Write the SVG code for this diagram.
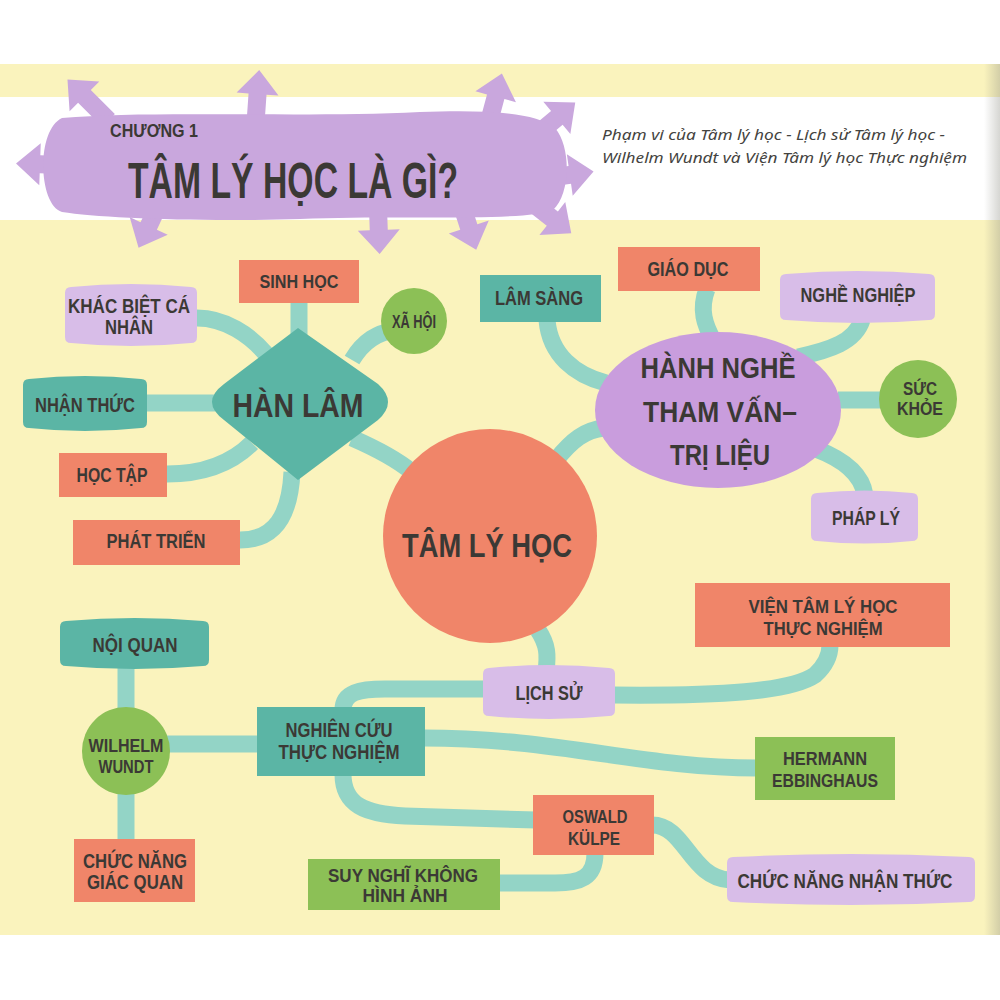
<svg xmlns="http://www.w3.org/2000/svg" xmlns:xlink="http://www.w3.org/1999/xlink" width="1000" height="1000" viewBox="0 0 1000 1000">
<defs>
<style>
.t{font-family:"Liberation Sans","DejaVu Sans",sans-serif;font-weight:bold;fill:#3b3935;text-anchor:middle;font-size:20px}
.s19{font-size:19px}
.big{font-size:34px}
.mid{font-size:29px}
.title{font-size:50px}
.sub{font-family:"Noto Sans","Open Sans","DejaVu Sans",sans-serif;font-style:italic;font-size:15px;fill:#444340}
.con path{fill:none;stroke:#93d4c6;stroke-width:17}
.salmon{fill:#f08569}
.teal{fill:#5bb5a5}
.lav{fill:#d8bde8}
.purp{fill:#c99ddd}
.green{fill:#8cc056}
</style>
<linearGradient id="edge" x1="0" y1="0" x2="1" y2="0">
<stop offset="0" stop-color="#8a8a80" stop-opacity="0"/>
<stop offset="1" stop-color="#8a8a80" stop-opacity="0.35"/>
</linearGradient>
<polygon id="arw" points="-9,12 -9,-22 -21,-22 0,-46 21,-22 9,-22 9,12" fill="#c9a7dd"/>
</defs>

<rect width="1000" height="1000" fill="#ffffff"/>
<rect x="0" y="64" width="1000" height="871" fill="#faf3bd"/>
<rect x="0" y="97" width="1000" height="123" fill="#ffffff"/>
<rect x="984" y="64" width="16" height="871" fill="url(#edge)"/>

<g id="header">
<use xlink:href="#arw" transform="translate(100,112) rotate(-45)"/>
<use xlink:href="#arw" transform="translate(256,116) rotate(4)"/>
<use xlink:href="#arw" transform="translate(490,118) rotate(15)"/>
<use xlink:href="#arw" transform="translate(540,132) rotate(50)"/>
<use xlink:href="#arw" transform="translate(548,178) rotate(82)"/>
<use xlink:href="#arw" transform="translate(535,205) rotate(128)"/>
<use xlink:href="#arw" transform="translate(462,206) rotate(162)"/>
<use xlink:href="#arw" transform="translate(378,208) rotate(178)"/>
<use xlink:href="#arw" transform="translate(158,206) rotate(205)"/>
<use xlink:href="#arw" transform="translate(62,165) rotate(-88)"/>
<path d="M62,118 C150,110 300,118 420,112 C480,110 535,111 555,128 C572,148 570,195 553,210 C525,222 400,215 300,219 C200,222 100,218 62,212 C38,205 36,130 62,118 Z" fill="#c9a7dd"/>
<text class="t s19" x="154" y="137" textLength="88" lengthAdjust="spacingAndGlyphs">CHƯƠNG 1</text>
<text class="t title" x="293" y="198" textLength="330" lengthAdjust="spacingAndGlyphs">TÂM LÝ HỌC LÀ GÌ?</text>
<text class="sub" x="602" y="140" textLength="343" lengthAdjust="spacingAndGlyphs">Phạm vi của Tâm lý học - Lịch sử Tâm lý học -</text>
<text class="sub" x="602" y="163" textLength="365" lengthAdjust="spacingAndGlyphs">Wilhelm Wundt và Viện Tâm lý học Thực nghiệm</text>
</g>

<g id="connectors" class="con">
<path d="M299,300 L299,335"/>
<path d="M197,318 C225,318 250,335 266,354"/>
<path d="M352,360 C364,340 378,333 394,330"/>
<path d="M145,403 L215,403"/>
<path d="M167,474 C200,474 230,465 252,443"/>
<path d="M240,540 C275,540 290,515 292,472"/>
<path d="M352,438 C375,448 395,458 412,472"/>
<path d="M556,460 C572,440 585,430 604,428"/>
<path d="M547,320 C550,355 575,375 606,383"/>
<path d="M707,289 C699,310 705,325 713,340"/>
<path d="M862,320 C855,342 830,350 798,357"/>
<path d="M838,400 L882,400"/>
<path d="M816,449 C845,460 862,475 865,495"/>
<path d="M538,630 C548,645 548,655 546,672"/>
<path d="M613,695 C720,696 790,692 815,675 C826,665 830,655 830,645"/>
<path d="M486,689 L385,689 C360,689 343,692 343,710"/>
<path d="M423,738 C560,738 640,768 757,768"/>
<path d="M343,774 C343,805 365,814 405,816 L536,820"/>
<path d="M595,853 C595,878 580,883 555,883 L498,883"/>
<path d="M652,825 C685,825 690,878 730,880"/>
<path d="M126,665 L126,712"/>
<path d="M166,744 L260,744"/>
<path d="M126,790 L126,841"/>
</g>

<g id="n-sinhhoc">
<rect class="salmon" x="239" y="260" width="120" height="43"/>
<text class="t s19" x="299" y="288" textLength="79" lengthAdjust="spacingAndGlyphs">SINH HỌC</text>
</g>
<g id="n-khacbiet">
<path class="lav" d="M65,293 Q65,287 71,287 Q131,281 191,287 Q197,287 197,293 L197,337 Q197,343 191,343 Q131,349 71,343 Q65,343 65,337 Z"/>
<text class="t" x="129" y="313" textLength="122" lengthAdjust="spacingAndGlyphs">KHÁC BIỆT CÁ</text>
<text class="t" x="129" y="334" textLength="48" lengthAdjust="spacingAndGlyphs">NHÂN</text>
</g>
<g id="n-xahoi">
<circle class="green" cx="414" cy="321" r="33"/>
<text class="t s19" x="414" y="328" textLength="44" lengthAdjust="spacingAndGlyphs">XÃ HỘI</text>
</g>
<g id="n-nhanthuc">
<path class="teal" d="M23,385 Q23,379 29,379 Q85,373 141,379 Q147,379 147,385 L147,422 Q147,428 141,428 Q85,434 29,428 Q23,428 23,422 Z"/>
<text class="t" x="85" y="412" textLength="100" lengthAdjust="spacingAndGlyphs">NHẬN THỨC</text>
</g>
<g id="n-hanlam">
<path class="teal" d="M298,328 L378,384 Q398,402 378,420 L298,480 L224,420 Q200,402 224,384 Z"/>
<text class="t big" x="298" y="417" textLength="131" lengthAdjust="spacingAndGlyphs">HÀN LÂM</text>
</g>
<g id="n-hoctap">
<rect class="salmon" x="59" y="453" width="108" height="44"/>
<text class="t" x="112" y="482" textLength="71" lengthAdjust="spacingAndGlyphs">HỌC TẬP</text>
</g>
<g id="n-phattrien">
<rect class="salmon" x="73" y="520" width="167" height="45"/>
<text class="t" x="156" y="548" textLength="99" lengthAdjust="spacingAndGlyphs">PHÁT TRIỂN</text>
</g>
<g id="n-tamlyhoc">
<circle class="salmon" cx="490" cy="536" r="107"/>
<text class="t big" x="487" y="557" textLength="170" lengthAdjust="spacingAndGlyphs">TÂM LÝ HỌC</text>
</g>
<g id="n-lamsang">
<rect class="teal" x="480" y="275" width="121" height="47"/>
<text class="t" x="539" y="305" textLength="88" lengthAdjust="spacingAndGlyphs">LÂM SÀNG</text>
</g>
<g id="n-giaoduc">
<rect class="salmon" x="618" y="247" width="142" height="44"/>
<text class="t" x="688" y="276" textLength="81" lengthAdjust="spacingAndGlyphs">GIÁO DỤC</text>
</g>
<g id="n-nghenghiep">
<path class="lav" d="M780,280 Q780,274 786,274 Q857,268 929,274 Q935,274 935,280 L935,314 Q935,320 929,320 Q857,326 786,320 Q780,320 780,314 Z"/>
<text class="t" x="858" y="302" textLength="115" lengthAdjust="spacingAndGlyphs">NGHỀ NGHIỆP</text>
</g>
<g id="n-hanhnghe">
<ellipse class="purp" cx="718" cy="410" rx="123" ry="78"/>
<text class="t mid" x="718" y="378" textLength="155" lengthAdjust="spacingAndGlyphs">HÀNH NGHỀ</text>
<text class="t mid" x="720" y="422" textLength="154" lengthAdjust="spacingAndGlyphs">THAM VẤN–</text>
<text class="t mid" x="720" y="465" textLength="100" lengthAdjust="spacingAndGlyphs">TRỊ LIỆU</text>
</g>
<g id="n-suckhoe">
<circle class="green" cx="918" cy="399" r="39"/>
<text class="t s19" x="920" y="395" textLength="34" lengthAdjust="spacingAndGlyphs">SỨC</text>
<text class="t s19" x="920" y="415" textLength="46" lengthAdjust="spacingAndGlyphs">KHỎE</text>
</g>
<g id="n-phaply">
<path class="lav" d="M811,499 Q811,493 817,493 Q865,488 912,493 Q918,493 918,499 L918,535 Q918,541 912,541 Q865,546 817,541 Q811,541 811,535 Z"/>
<text class="t" x="866" y="525" textLength="68" lengthAdjust="spacingAndGlyphs">PHÁP LÝ</text>
</g>
<g id="n-vien">
<rect class="salmon" x="695" y="583" width="255" height="64"/>
<text class="t s19" x="823" y="613" textLength="149" lengthAdjust="spacingAndGlyphs">VIỆN TÂM LÝ HỌC</text>
<text class="t s19" x="823" y="635" textLength="119" lengthAdjust="spacingAndGlyphs">THỰC NGHIỆM</text>
</g>
<g id="n-lichsu">
<path class="lav" d="M483,674 Q483,668 489,668 Q549,662 609,668 Q615,668 615,674 L615,710 Q615,716 609,716 Q549,722 489,716 Q483,716 483,710 Z"/>
<text class="t" x="549" y="700" textLength="67" lengthAdjust="spacingAndGlyphs">LỊCH SỬ</text>
</g>
<g id="n-hermann">
<rect class="green" x="755" y="737" width="140" height="63"/>
<text class="t s19" x="825" y="765" textLength="84" lengthAdjust="spacingAndGlyphs">HERMANN</text>
<text class="t s19" x="825" y="787" textLength="106" lengthAdjust="spacingAndGlyphs">EBBINGHAUS</text>
</g>
<g id="n-oswald">
<rect class="salmon" x="533" y="795" width="121" height="60"/>
<text class="t s19" x="595" y="823" textLength="65" lengthAdjust="spacingAndGlyphs">OSWALD</text>
<text class="t s19" x="594" y="845" textLength="52" lengthAdjust="spacingAndGlyphs">KÜLPE</text>
</g>
<g id="n-chucnangnhanthuc">
<path class="lav" d="M727,863 Q727,857 733,857 Q851,851 969,857 Q975,857 975,863 L975,896 Q975,902 969,902 Q851,908 733,902 Q727,902 727,896 Z"/>
<text class="t" x="845" y="888" textLength="215" lengthAdjust="spacingAndGlyphs">CHỨC NĂNG NHẬN THỨC</text>
</g>
<g id="n-noiquan">
<path class="teal" d="M60,627 Q60,621 66,621 Q135,615 203,621 Q209,621 209,627 L209,660 Q209,666 203,666 Q135,672 66,666 Q60,666 60,660 Z"/>
<text class="t" x="135" y="652" textLength="85" lengthAdjust="spacingAndGlyphs">NỘI QUAN</text>
</g>
<g id="n-wundt">
<circle class="green" cx="126" cy="751" r="44"/>
<text class="t s19" x="126" y="752" textLength="75" lengthAdjust="spacingAndGlyphs">WILHELM</text>
<text class="t s19" x="126" y="773" textLength="55" lengthAdjust="spacingAndGlyphs">WUNDT</text>
</g>
<g id="n-nghiencuu">
<rect class="teal" x="257" y="707" width="168" height="69"/>
<text class="t" x="339" y="737" textLength="107" lengthAdjust="spacingAndGlyphs">NGHIÊN CỨU</text>
<text class="t" x="339" y="759" textLength="121" lengthAdjust="spacingAndGlyphs">THỰC NGHIỆM</text>
</g>
<g id="n-giacquan">
<rect class="salmon" x="74" y="839" width="121" height="63"/>
<text class="t" x="135" y="868" textLength="104" lengthAdjust="spacingAndGlyphs">CHỨC NĂNG</text>
<text class="t" x="135" y="889" textLength="96" lengthAdjust="spacingAndGlyphs">GIÁC QUAN</text>
</g>
<g id="n-suynghi">
<rect class="green" x="308" y="859" width="192" height="51"/>
<text class="t s19" x="403" y="882" textLength="150" lengthAdjust="spacingAndGlyphs">SUY NGHĨ KHÔNG</text>
<text class="t s19" x="405" y="902" textLength="85" lengthAdjust="spacingAndGlyphs">HÌNH ẢNH</text>
</g>
</svg>
